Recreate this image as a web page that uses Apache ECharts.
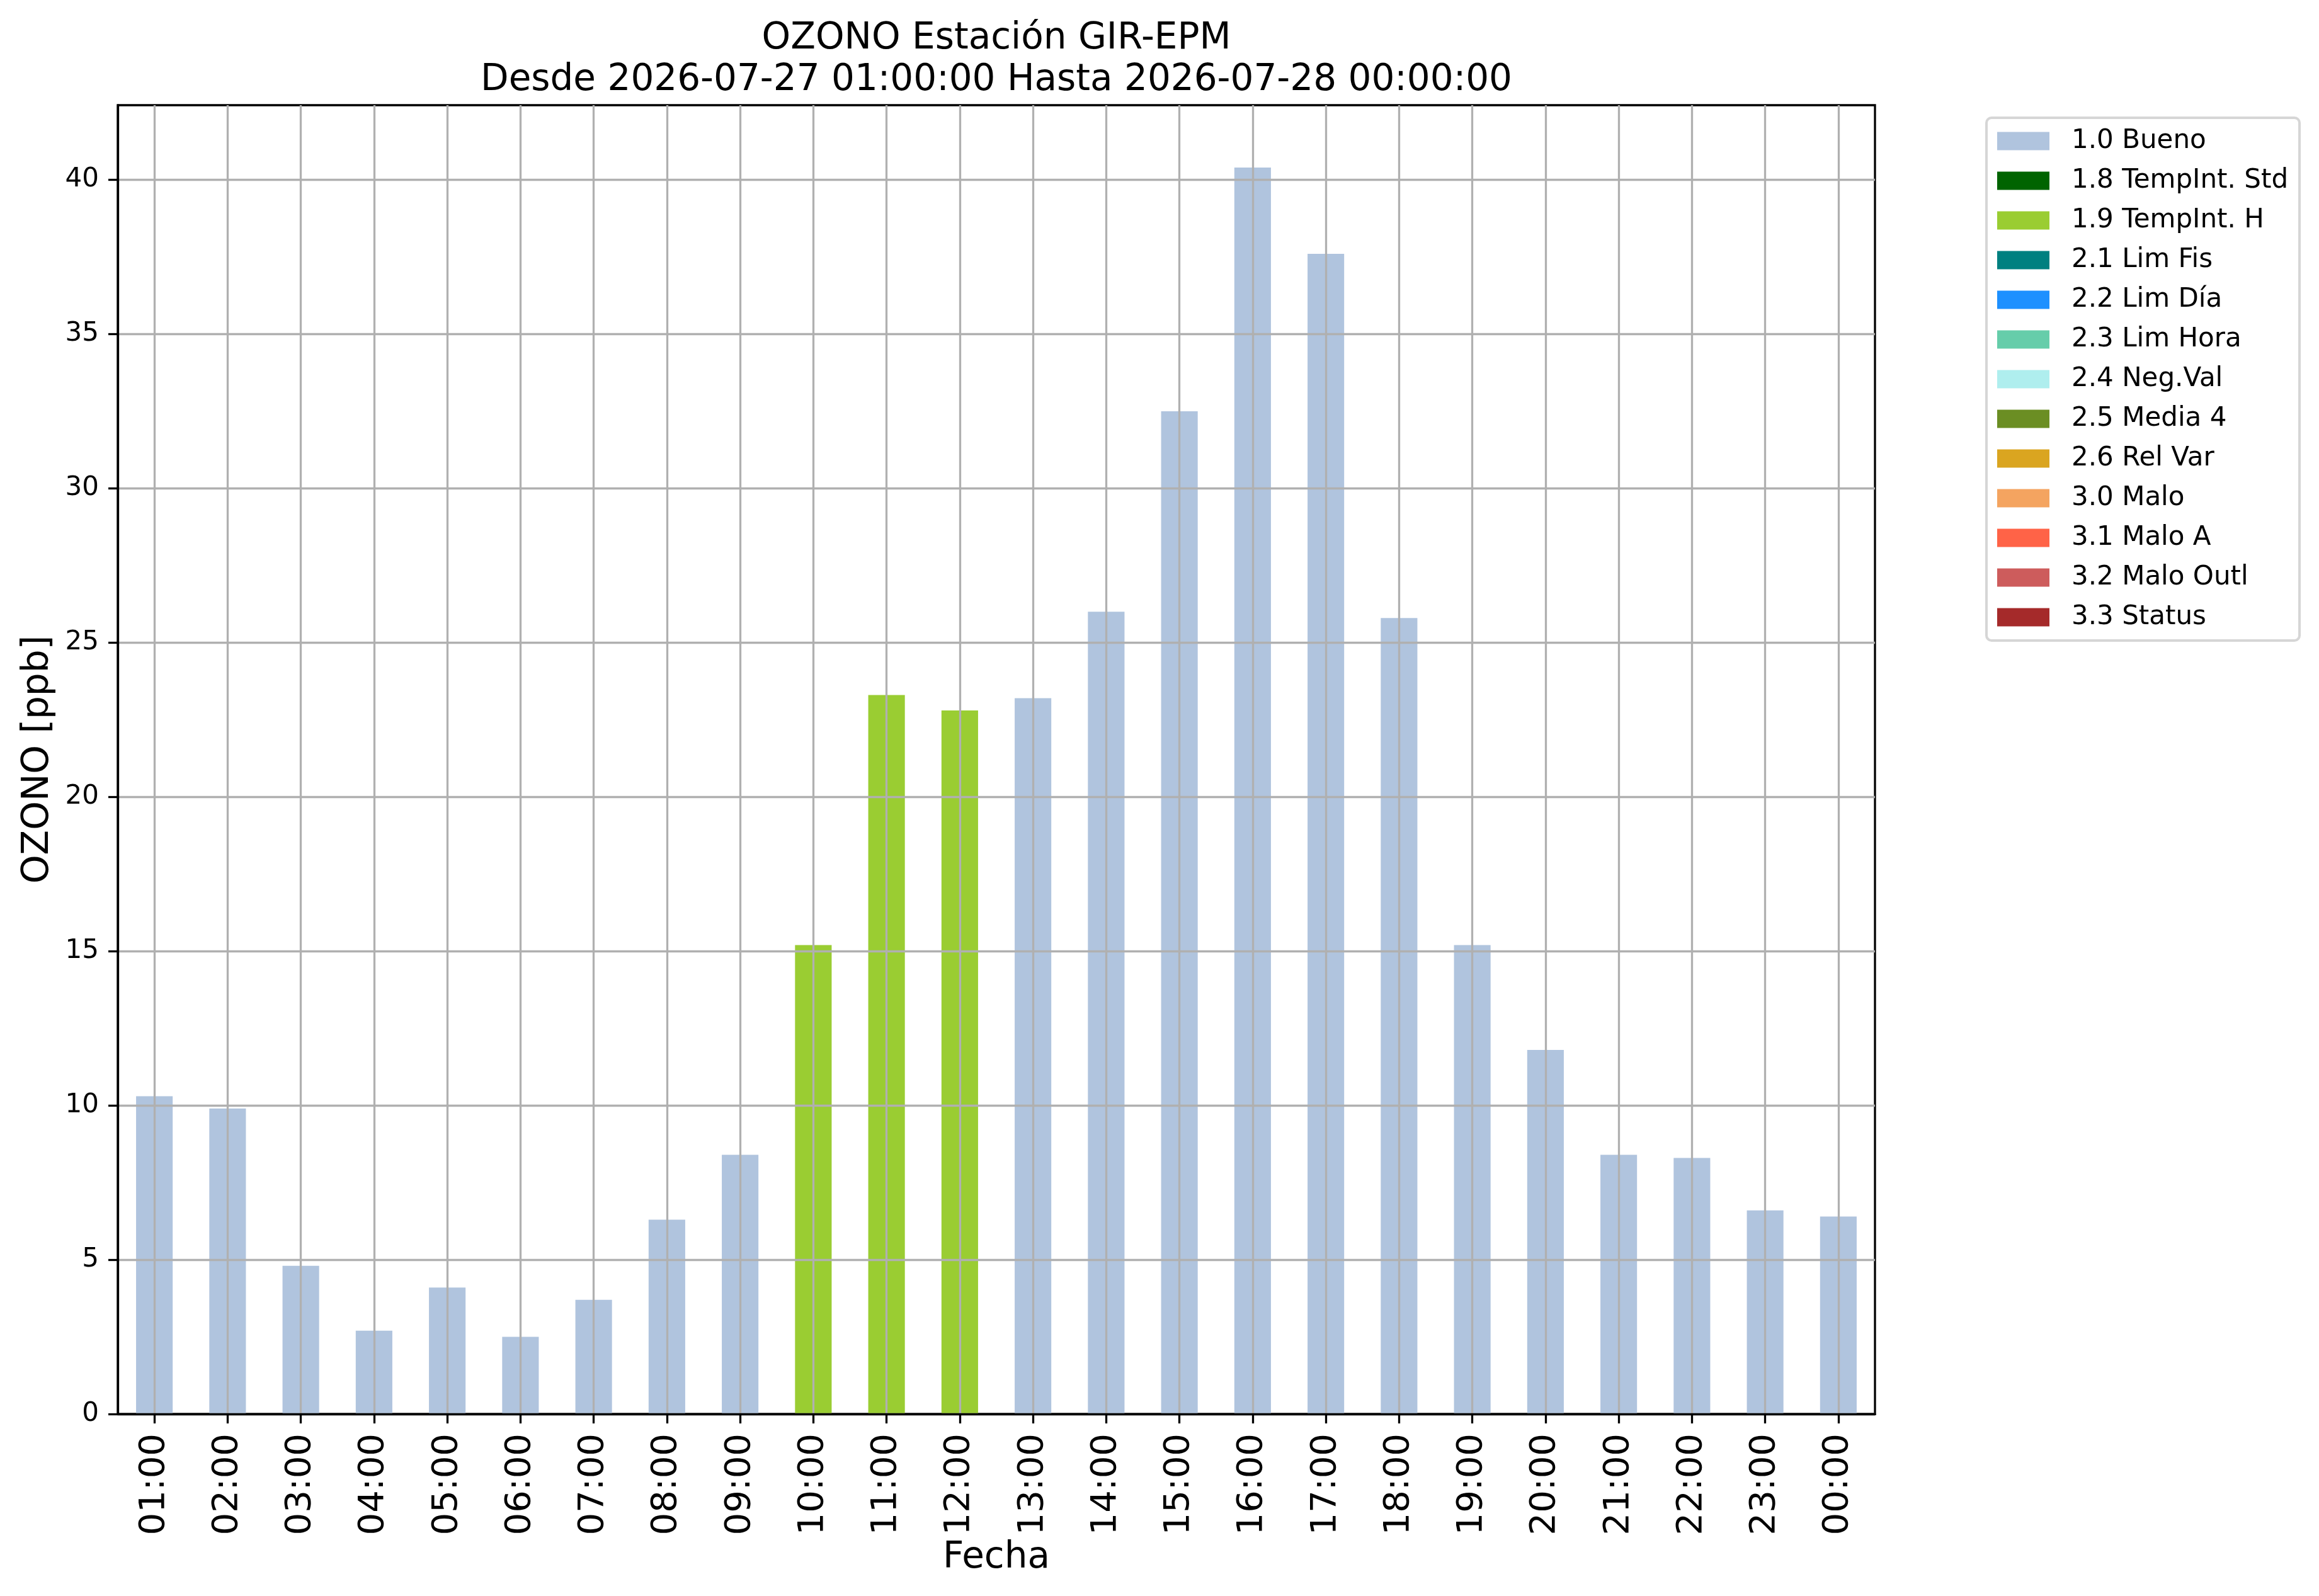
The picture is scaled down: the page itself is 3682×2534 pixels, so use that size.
<!DOCTYPE html>
<html>
<head>
<meta charset="utf-8">
<script src="https://cdn.jsdelivr.net/npm/echarts@6/dist/echarts.min.js"></script>
<style>
html,body{margin:0;padding:0;background:#fff;}
#chart{width:3682px;height:2534px;}
</style>
</head>
<body>
<div id="chart"></div>
<script>
// ---- data ----
const hours = ['01:00','02:00','03:00','04:00','05:00','06:00','07:00','08:00','09:00','10:00','11:00','12:00',
               '13:00','14:00','15:00','16:00','17:00','18:00','19:00','20:00','21:00','22:00','23:00','00:00'];
const ozone = [10.3, 9.9, 4.8, 2.7, 4.1, 2.5, 3.7, 6.3, 8.4, 15.2, 23.3, 22.8,
               23.2, 26.0, 32.5, 40.4, 37.6, 25.8, 15.2, 11.8, 8.4, 8.3, 6.6, 6.4];
const flags = ['1.0 Bueno','1.0 Bueno','1.0 Bueno','1.0 Bueno','1.0 Bueno','1.0 Bueno','1.0 Bueno','1.0 Bueno','1.0 Bueno',
               '1.9 TempInt. H','1.9 TempInt. H','1.9 TempInt. H',
               '1.0 Bueno','1.0 Bueno','1.0 Bueno','1.0 Bueno','1.0 Bueno','1.0 Bueno','1.0 Bueno','1.0 Bueno','1.0 Bueno','1.0 Bueno','1.0 Bueno','1.0 Bueno'];
const flagNames = ['1.0 Bueno','1.8 TempInt. Std','1.9 TempInt. H','2.1 Lim Fis','2.2 Lim Día','2.3 Lim Hora',
                   '2.4 Neg.Val','2.5 Media 4','2.6 Rel Var','3.0 Malo','3.1 Malo A','3.2 Malo Outl','3.3 Status'];
const flagColors = ['#B0C4DE','#006400','#9ACD32','#008080','#1E90FF','#66CDAA',
                    '#AFEEEE','#6B8E23','#DAA520','#F4A460','#FF6347','#CD5C5C','#A52A2A'];
const yTicks = [0, 5, 10, 15, 20, 25, 30, 35, 40];
const yMax = 42.42;
const titleText = 'OZONO Estación GIR-EPM\nDesde 2026-07-27 01:00:00 Hasta 2026-07-28 00:00:00';

// ---- chart ----
const FONT = 'DejaVu Sans';
const chart = echarts.init(document.getElementById('chart'), null, {renderer: 'canvas', devicePixelRatio: 1});

const series = flagNames.map((name, k) => ({
  name: name,
  type: 'bar',
  stack: 'all',
  barWidth: '50%',
  z: 1,
  itemStyle: {color: flagColors[k]},
  emphasis: {disabled: true},
  data: ozone.map((v, i) => flags[i] === name ? v : null)
}));

chart.setOption({
  animation: false,
  backgroundColor: '#ffffff',
  textStyle: {fontFamily: FONT},
  title: {
    text: titleText,
    left: 1582,
    top: 29,
    textAlign: 'center',
    padding: 0,
    textStyle: {fontFamily: FONT, fontSize: 58, fontWeight: 'normal', color: '#000', lineHeight: 66}
  },
  grid: {
    left: 187, top: 167, width: 2790, height: 2078,
    show: true, borderColor: '#000', borderWidth: 3.3, backgroundColor: 'transparent',
    containLabel: false
  },
  legend: {
    orient: 'vertical',
    left: 3154,
    top: 187,
    padding: [16, 18, 16, 17],
    itemWidth: 83,
    itemHeight: 29,
    itemGap: 21,
    icon: 'rect',
    borderColor: '#d6d6d6',
    borderWidth: 4,
    borderRadius: 8,
    backgroundColor: '#ffffff',
    selectedMode: false,
    textStyle: {fontFamily: FONT, fontSize: 42, color: '#000', lineHeight: 42, padding: [0, 0, 0, 30]},
    data: flagNames
  },
  xAxis: {
    type: 'category',
    data: hours,
    boundaryGap: true,
    z: 10,
    name: 'Fecha',
    nameLocation: 'middle',
    nameGap: 200,
    nameTextStyle: {fontFamily: FONT, fontSize: 58, color: '#000'},
    axisLine: {show: true, lineStyle: {color: '#000', width: 3.3}},
    axisTick: {show: true, alignWithLabel: true, length: 15, lineStyle: {color: '#000', width: 3.3}},
    axisLabel: {show: true, rotate: 90, interval: 0, margin: 31, fontFamily: FONT, fontSize: 56, color: '#000'},
    splitLine: {show: true, alignWithLabel: true, lineStyle: {color: '#b0b0b0', width: 3.3}}
  },
  yAxis: {
    type: 'value',
    min: 0,
    max: yMax,
    interval: 5,
    z: 10,
    name: 'OZONO [ppb]',
    nameLocation: 'middle',
    nameGap: 97,
    nameTextStyle: {fontFamily: FONT, fontSize: 58, color: '#000'},
    axisLine: {show: true, lineStyle: {color: '#000', width: 3.3}},
    axisTick: {show: true, length: 15, customValues: yTicks, lineStyle: {color: '#000', width: 3.3}},
    axisLabel: {show: true, margin: 30, customValues: yTicks, fontFamily: FONT, fontSize: 42, color: '#000'},
    splitLine: {show: true, lineStyle: {color: '#b0b0b0', width: 3.3}}
  },
  series: series
});
</script>
</body>
</html>
